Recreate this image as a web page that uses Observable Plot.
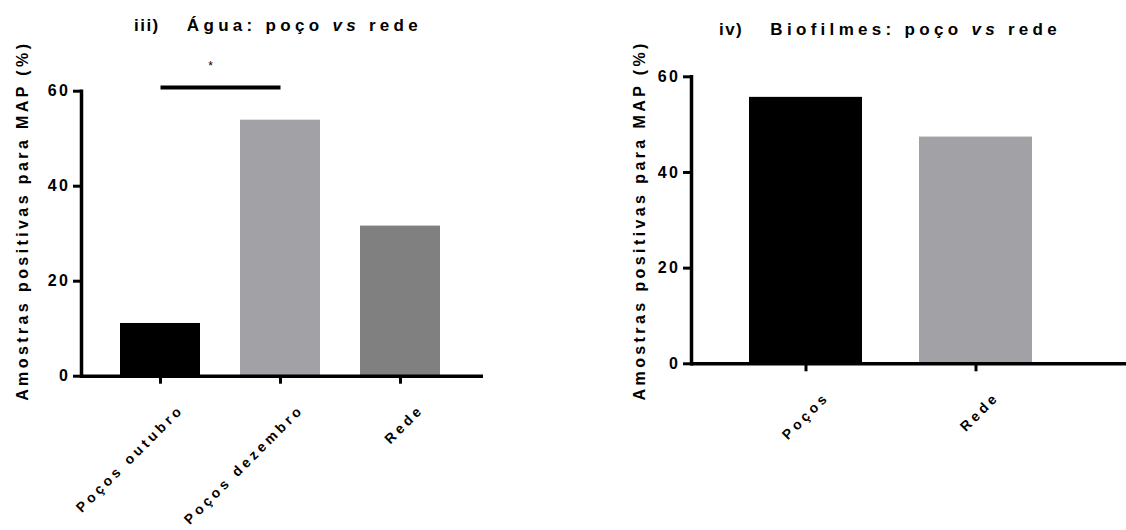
<!DOCTYPE html>
<html><head><meta charset="utf-8">
<script src="https://cdn.jsdelivr.net/npm/d3@7"></script>
<script src="https://cdn.jsdelivr.net/npm/@observablehq/plot@0.6"></script>
<style>
body{margin:0;background:#fff;}
#wrap{position:relative;width:1126px;height:530px;overflow:hidden;font-family:"Liberation Sans",Arial,sans-serif;}
.panel{position:absolute;top:0;}
.title{position:absolute;font-weight:bold;font-size:17px;line-height:20px;letter-spacing:4.3px;white-space:pre;color:#000;text-align:center;width:460px;}
.title .num{letter-spacing:1.5px;}
g[aria-label="y-axis tick label"] text{letter-spacing:2.5px;}
g[aria-label="x-axis tick label"] text{letter-spacing:3.6px;}
</style></head>
<body>
<div id="wrap">
  <div class="title" id="t1" style="left:48px;top:16px;"></div>
  <div class="title" id="t2" style="left:660px;top:20px;"></div>
  <div class="panel" id="p1" style="left:0px;"></div>
  <div class="panel" id="p2" style="left:560px;"></div>
</div>
<script>
// ---- data ----
const aguaCategories = ["Poços outubro", "Poços dezembro", "Rede"];
const aguaValues = [11.1, 53.9, 31.6];
const aguaColors = ["#000000", "#a2a1a6", "#808080"];
const biofCategories = ["Poços", "Rede"];
const biofValues = [55.7, 47.4];
const biofColors = ["#000000", "#a2a1a6"];
const yTicks = [0, 20, 40, 60];
const yLabel = "Amostras positivas para MAP (%)";
const sigPair = ["Poços outubro", "Poços dezembro"];
const sigLevel = [60.8];
const sigMark = ["*"];
const sigMarkLevel = 65.2;
const title1 = ["iii)", "Água: poço ", "vs", " rede"];
const title2 = ["iv)", "Biofilmes: poço ", "vs", " rede"];

function setTitle(id, t) {
  const el = document.getElementById(id);
  el.innerHTML = `<span class="num">${t[0]}</span>   ${t[1]}<i>${t[2]}</i>${t[3]}`;
}
setTitle("t1", title1);
setTitle("t2", title2);

const agua = aguaCategories.map((c, i) => ({cat: c, value: aguaValues[i]}));
const biof = biofCategories.map((c, i) => ({cat: c, value: biofValues[i]}));

const font = "'Liberation Sans', Arial, sans-serif";

function commonMarks() {
  return [
    Plot.frame({anchor: "left", strokeWidth: 3.5, stroke: "#000"}),
    Plot.ruleY([0], {strokeWidth: 3.5, stroke: "#000"}),
    Plot.axisY({ticks: yTicks, tickSize: 8, tickPadding: 3, strokeWidth: 3, fontSize: 16, fontWeight: "bold", label: null, tickFormat: d => String(d)}),
    Plot.axisX({tickSize: 8, strokeWidth: 3, tickFormat: () => "", label: null}),
    Plot.axisX({tickSize: 0, tickRotate: -45, tickPadding: 6, dx: 21, dy: 25, fontSize: 14, fontWeight: "bold", label: null})
  ];
}

function spaceLabel(svg, ls) {
  svg.querySelectorAll("text").forEach(t => {
    if (t.textContent === yLabel) t.style.letterSpacing = ls;
  });
}

const p1 = Plot.plot({
  width: 560, height: 530,
  marginLeft: 81, marginRight: 77, marginTop: 90.7, marginBottom: 154.3,
  style: {fontFamily: font, background: "transparent", overflow: "visible", color: "#000"},
  x: {domain: aguaCategories, paddingInner: 1/3, paddingOuter: 0.34, align: 0.47, label: null, axis: null},
  y: {domain: [0, 60], label: null, axis: null},
  color: {domain: aguaCategories, range: aguaColors},
  marks: [
    Plot.barY(agua, {x: "cat", y: "value", fill: "cat"}),
    ...commonMarks(),
    Plot.link(sigLevel, {x1: () => sigPair[0], x2: () => sigPair[1], y1: d => d, y2: d => d, strokeWidth: 4, stroke: "#000"}),
    Plot.text(sigMark, {x: () => sigPair[0], y: () => sigMarkLevel, text: d => d, dx: 50, fontSize: 12}),
    Plot.text([yLabel], {text: d => d, frameAnchor: "left", textAnchor: "middle", rotate: -90, dx: -59, dy: -13, fontSize: 16, fontWeight: "bold"})
  ]
});
spaceLabel(p1, "3.4px");
document.getElementById("p1").appendChild(p1);

const p2 = Plot.plot({
  width: 566, height: 530,
  marginLeft: 131, marginRight: 0, marginTop: 76.3, marginBottom: 166.7,
  style: {fontFamily: font, background: "transparent", overflow: "visible", color: "#000"},
  x: {domain: biofCategories, paddingInner: 1/3, paddingOuter: 0.44, align: 0.38, label: null, axis: null},
  y: {domain: [0, 60], label: null, axis: null},
  color: {domain: biofCategories, range: biofColors},
  marks: [
    Plot.barY(biof, {x: "cat", y: "value", fill: "cat"}),
    ...commonMarks(),
    Plot.text([yLabel], {text: d => d, frameAnchor: "left", textAnchor: "middle", rotate: -90, dx: -52, dy: 0, fontSize: 16, fontWeight: "bold"})
  ]
});
spaceLabel(p2, "3.4px");
document.getElementById("p2").appendChild(p2);
</script>
</body></html>
